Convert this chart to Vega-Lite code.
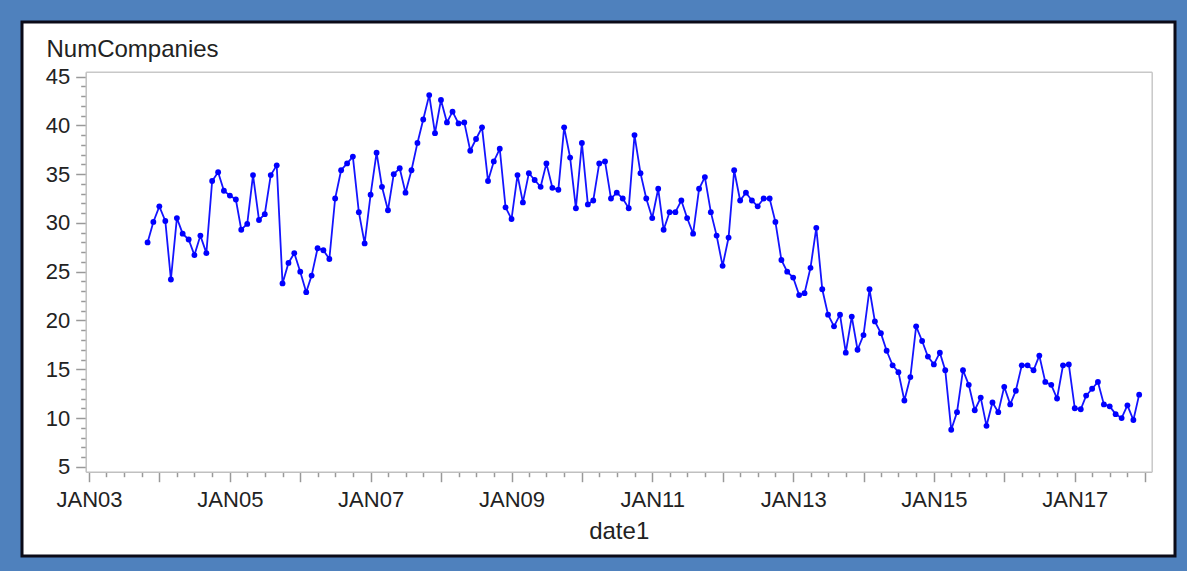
{
  "$schema": "https://vega.github.io/schema/vega-lite/v6.json",
  "width": 1153,
  "height": 534,
  "autosize": {"type": "none"},
  "padding": {"left": 22, "top": 22, "right": 12, "bottom": 15},
  "background": "#4F81BD",
  "config": {
    "view": {"fill": "white", "stroke": "#0b0b18", "strokeWidth": 3},
    "font": "Liberation Sans"
  },
  "data": {"values": [
    {"date1": "2003/11/01", "NumCompanies": 28.0},
    {"date1": "2003/12/01", "NumCompanies": 30.1},
    {"date1": "2004/01/01", "NumCompanies": 31.7},
    {"date1": "2004/02/01", "NumCompanies": 30.2},
    {"date1": "2004/03/01", "NumCompanies": 24.2},
    {"date1": "2004/04/01", "NumCompanies": 30.5},
    {"date1": "2004/05/01", "NumCompanies": 28.9},
    {"date1": "2004/06/01", "NumCompanies": 28.3},
    {"date1": "2004/07/01", "NumCompanies": 26.7},
    {"date1": "2004/08/01", "NumCompanies": 28.7},
    {"date1": "2004/09/01", "NumCompanies": 26.9},
    {"date1": "2004/10/01", "NumCompanies": 34.3},
    {"date1": "2004/11/01", "NumCompanies": 35.2},
    {"date1": "2004/12/01", "NumCompanies": 33.3},
    {"date1": "2005/01/01", "NumCompanies": 32.8},
    {"date1": "2005/02/01", "NumCompanies": 32.4},
    {"date1": "2005/03/01", "NumCompanies": 29.3},
    {"date1": "2005/04/01", "NumCompanies": 29.9},
    {"date1": "2005/05/01", "NumCompanies": 34.9},
    {"date1": "2005/06/01", "NumCompanies": 30.3},
    {"date1": "2005/07/01", "NumCompanies": 30.9},
    {"date1": "2005/08/01", "NumCompanies": 34.9},
    {"date1": "2005/09/01", "NumCompanies": 35.9},
    {"date1": "2005/10/01", "NumCompanies": 23.8},
    {"date1": "2005/11/01", "NumCompanies": 25.9},
    {"date1": "2005/12/01", "NumCompanies": 26.9},
    {"date1": "2006/01/01", "NumCompanies": 25.0},
    {"date1": "2006/02/01", "NumCompanies": 22.9},
    {"date1": "2006/03/01", "NumCompanies": 24.6},
    {"date1": "2006/04/01", "NumCompanies": 27.4},
    {"date1": "2006/05/01", "NumCompanies": 27.2},
    {"date1": "2006/06/01", "NumCompanies": 26.3},
    {"date1": "2006/07/01", "NumCompanies": 32.5},
    {"date1": "2006/08/01", "NumCompanies": 35.4},
    {"date1": "2006/09/01", "NumCompanies": 36.1},
    {"date1": "2006/10/01", "NumCompanies": 36.8},
    {"date1": "2006/11/01", "NumCompanies": 31.1},
    {"date1": "2006/12/01", "NumCompanies": 27.9},
    {"date1": "2007/01/01", "NumCompanies": 32.9},
    {"date1": "2007/02/01", "NumCompanies": 37.2},
    {"date1": "2007/03/01", "NumCompanies": 33.7},
    {"date1": "2007/04/01", "NumCompanies": 31.3},
    {"date1": "2007/05/01", "NumCompanies": 35.0},
    {"date1": "2007/06/01", "NumCompanies": 35.6},
    {"date1": "2007/07/01", "NumCompanies": 33.1},
    {"date1": "2007/08/01", "NumCompanies": 35.4},
    {"date1": "2007/09/01", "NumCompanies": 38.2},
    {"date1": "2007/10/01", "NumCompanies": 40.6},
    {"date1": "2007/11/01", "NumCompanies": 43.1},
    {"date1": "2007/12/01", "NumCompanies": 39.2},
    {"date1": "2008/01/01", "NumCompanies": 42.6},
    {"date1": "2008/02/01", "NumCompanies": 40.3},
    {"date1": "2008/03/01", "NumCompanies": 41.4},
    {"date1": "2008/04/01", "NumCompanies": 40.2},
    {"date1": "2008/05/01", "NumCompanies": 40.3},
    {"date1": "2008/06/01", "NumCompanies": 37.4},
    {"date1": "2008/07/01", "NumCompanies": 38.6},
    {"date1": "2008/08/01", "NumCompanies": 39.8},
    {"date1": "2008/09/01", "NumCompanies": 34.3},
    {"date1": "2008/10/01", "NumCompanies": 36.3},
    {"date1": "2008/11/01", "NumCompanies": 37.6},
    {"date1": "2008/12/01", "NumCompanies": 31.6},
    {"date1": "2009/01/01", "NumCompanies": 30.4},
    {"date1": "2009/02/01", "NumCompanies": 34.9},
    {"date1": "2009/03/01", "NumCompanies": 32.1},
    {"date1": "2009/04/01", "NumCompanies": 35.1},
    {"date1": "2009/05/01", "NumCompanies": 34.4},
    {"date1": "2009/06/01", "NumCompanies": 33.7},
    {"date1": "2009/07/01", "NumCompanies": 36.1},
    {"date1": "2009/08/01", "NumCompanies": 33.6},
    {"date1": "2009/09/01", "NumCompanies": 33.4},
    {"date1": "2009/10/01", "NumCompanies": 39.8},
    {"date1": "2009/11/01", "NumCompanies": 36.7},
    {"date1": "2009/12/01", "NumCompanies": 31.5},
    {"date1": "2010/01/01", "NumCompanies": 38.2},
    {"date1": "2010/02/01", "NumCompanies": 31.9},
    {"date1": "2010/03/01", "NumCompanies": 32.3},
    {"date1": "2010/04/01", "NumCompanies": 36.1},
    {"date1": "2010/05/01", "NumCompanies": 36.3},
    {"date1": "2010/06/01", "NumCompanies": 32.5},
    {"date1": "2010/07/01", "NumCompanies": 33.1},
    {"date1": "2010/08/01", "NumCompanies": 32.5},
    {"date1": "2010/09/01", "NumCompanies": 31.5},
    {"date1": "2010/10/01", "NumCompanies": 39.0},
    {"date1": "2010/11/01", "NumCompanies": 35.1},
    {"date1": "2010/12/01", "NumCompanies": 32.5},
    {"date1": "2011/01/01", "NumCompanies": 30.5},
    {"date1": "2011/02/01", "NumCompanies": 33.5},
    {"date1": "2011/03/01", "NumCompanies": 29.3},
    {"date1": "2011/04/01", "NumCompanies": 31.1},
    {"date1": "2011/05/01", "NumCompanies": 31.1},
    {"date1": "2011/06/01", "NumCompanies": 32.3},
    {"date1": "2011/07/01", "NumCompanies": 30.5},
    {"date1": "2011/08/01", "NumCompanies": 28.9},
    {"date1": "2011/09/01", "NumCompanies": 33.5},
    {"date1": "2011/10/01", "NumCompanies": 34.7},
    {"date1": "2011/11/01", "NumCompanies": 31.1},
    {"date1": "2011/12/01", "NumCompanies": 28.7},
    {"date1": "2012/01/01", "NumCompanies": 25.6},
    {"date1": "2012/02/01", "NumCompanies": 28.5},
    {"date1": "2012/03/01", "NumCompanies": 35.4},
    {"date1": "2012/04/01", "NumCompanies": 32.3},
    {"date1": "2012/05/01", "NumCompanies": 33.1},
    {"date1": "2012/06/01", "NumCompanies": 32.3},
    {"date1": "2012/07/01", "NumCompanies": 31.7},
    {"date1": "2012/08/01", "NumCompanies": 32.5},
    {"date1": "2012/09/01", "NumCompanies": 32.5},
    {"date1": "2012/10/01", "NumCompanies": 30.1},
    {"date1": "2012/11/01", "NumCompanies": 26.2},
    {"date1": "2012/12/01", "NumCompanies": 25.0},
    {"date1": "2013/01/01", "NumCompanies": 24.4},
    {"date1": "2013/02/01", "NumCompanies": 22.6},
    {"date1": "2013/03/01", "NumCompanies": 22.8},
    {"date1": "2013/04/01", "NumCompanies": 25.4},
    {"date1": "2013/05/01", "NumCompanies": 29.5},
    {"date1": "2013/06/01", "NumCompanies": 23.2},
    {"date1": "2013/07/01", "NumCompanies": 20.6},
    {"date1": "2013/08/01", "NumCompanies": 19.4},
    {"date1": "2013/09/01", "NumCompanies": 20.6},
    {"date1": "2013/10/01", "NumCompanies": 16.7},
    {"date1": "2013/11/01", "NumCompanies": 20.4},
    {"date1": "2013/12/01", "NumCompanies": 17.0},
    {"date1": "2014/01/01", "NumCompanies": 18.5},
    {"date1": "2014/02/01", "NumCompanies": 23.2},
    {"date1": "2014/03/01", "NumCompanies": 19.9},
    {"date1": "2014/04/01", "NumCompanies": 18.7},
    {"date1": "2014/05/01", "NumCompanies": 16.9},
    {"date1": "2014/06/01", "NumCompanies": 15.4},
    {"date1": "2014/07/01", "NumCompanies": 14.7},
    {"date1": "2014/08/01", "NumCompanies": 11.8},
    {"date1": "2014/09/01", "NumCompanies": 14.2},
    {"date1": "2014/10/01", "NumCompanies": 19.4},
    {"date1": "2014/11/01", "NumCompanies": 17.9},
    {"date1": "2014/12/01", "NumCompanies": 16.3},
    {"date1": "2015/01/01", "NumCompanies": 15.5},
    {"date1": "2015/02/01", "NumCompanies": 16.7},
    {"date1": "2015/03/01", "NumCompanies": 14.9},
    {"date1": "2015/04/01", "NumCompanies": 8.8},
    {"date1": "2015/05/01", "NumCompanies": 10.6},
    {"date1": "2015/06/01", "NumCompanies": 14.9},
    {"date1": "2015/07/01", "NumCompanies": 13.4},
    {"date1": "2015/08/01", "NumCompanies": 10.8},
    {"date1": "2015/09/01", "NumCompanies": 12.1},
    {"date1": "2015/10/01", "NumCompanies": 9.2},
    {"date1": "2015/11/01", "NumCompanies": 11.6},
    {"date1": "2015/12/01", "NumCompanies": 10.6},
    {"date1": "2016/01/01", "NumCompanies": 13.2},
    {"date1": "2016/02/01", "NumCompanies": 11.4},
    {"date1": "2016/03/01", "NumCompanies": 12.8},
    {"date1": "2016/04/01", "NumCompanies": 15.4},
    {"date1": "2016/05/01", "NumCompanies": 15.4},
    {"date1": "2016/06/01", "NumCompanies": 14.9},
    {"date1": "2016/07/01", "NumCompanies": 16.4},
    {"date1": "2016/08/01", "NumCompanies": 13.7},
    {"date1": "2016/09/01", "NumCompanies": 13.4},
    {"date1": "2016/10/01", "NumCompanies": 12.0},
    {"date1": "2016/11/01", "NumCompanies": 15.4},
    {"date1": "2016/12/01", "NumCompanies": 15.5},
    {"date1": "2017/01/01", "NumCompanies": 11.0},
    {"date1": "2017/02/01", "NumCompanies": 10.9},
    {"date1": "2017/03/01", "NumCompanies": 12.3},
    {"date1": "2017/04/01", "NumCompanies": 13.0},
    {"date1": "2017/05/01", "NumCompanies": 13.7},
    {"date1": "2017/06/01", "NumCompanies": 11.4},
    {"date1": "2017/07/01", "NumCompanies": 11.2},
    {"date1": "2017/08/01", "NumCompanies": 10.4},
    {"date1": "2017/09/01", "NumCompanies": 10.0},
    {"date1": "2017/10/01", "NumCompanies": 11.3},
    {"date1": "2017/11/01", "NumCompanies": 9.8},
    {"date1": "2017/12/01", "NumCompanies": 12.4}
  ]},
  "layer": [
    {
      "mark": {"type": "line", "color": "#1414FF", "strokeWidth": 1.8},
      "encoding": {
        "x": {
          "field": "date1", "type": "temporal",
          "scale": {"domain": [{"year": 2002, "month": 12, "date": 15}, {"year": 2018, "month": 2, "date": 4}], "range": [63.7, 1129.7], "nice": false},
          "axis": {
            "orient": "bottom", "offset": -84.3, "grid": false,
            "tickCount": {"interval": "month", "step": 3},
            "labelExpr": "month(datum.value) == 0 && year(datum.value) % 2 == 1 ? upper(timeFormat(datum.value, '%b%y')) : ''",
            "labelOverlap": false, "labelFlush": false,
            "labelFontSize": 22, "labelColor": "#222222", "labelPadding": 8,
            "tickSize": {"condition": {"test": "month(datum.value) == 0", "value": 10}, "value": 5},
            "tickColor": "#999999", "tickWidth": 1.5,
            "domainColor": "#c0c0c0", "domainWidth": 1.5,
            "title": "date1", "titleFontSize": 24, "titleFontWeight": "normal", "titleColor": "#222222",
            "titleY": 66.3, "titleBaseline": "alphabetic"
          }
        },
        "y": {
          "field": "NumCompanies", "type": "quantitative",
          "scale": {"domain": [4.5, 45.5], "range": [449.7, 49.7], "nice": false, "zero": false},
          "axis": {
            "orient": "left", "offset": -63.7, "grid": false,
            "values": [5,6,7,8,9,10,11,12,13,14,15,16,17,18,19,20,21,22,23,24,25,26,27,28,29,30,31,32,33,34,35,36,37,38,39,40,41,42,43,44,45],
            "labelExpr": "datum.value % 5 == 0 ? datum.label : ''",
            "labelOverlap": false,
            "labelFontSize": 22, "labelColor": "#222222", "labelPadding": 6,
            "tickSize": {"condition": {"test": "datum.value % 5 == 0", "value": 10}, "value": 5},
            "tickColor": "#999999", "tickWidth": 1.5,
            "domainColor": "#c0c0c0", "domainWidth": 1.5,
            "title": "NumCompanies", "titleFontSize": 24, "titleFontWeight": "normal", "titleColor": "#222222",
            "titleAngle": 0, "titleAlign": "left", "titleBaseline": "alphabetic",
            "titleX": -39.7, "titleY": 34.7
          }
        }
      }
    },
    {
      "mark": {"type": "point", "filled": true, "color": "#0000FF", "size": 34, "opacity": 1},
      "encoding": {
        "x": {
          "field": "date1", "type": "temporal",
          "axis": {"orient": "top", "offset": -49.7, "ticks": false, "labels": false, "title": null, "grid": false, "domainColor": "#c8c8c8", "domainWidth": 1.5}
        },
        "y": {
          "field": "NumCompanies", "type": "quantitative",
          "axis": {"orient": "right", "offset": -23.3, "ticks": false, "labels": false, "title": null, "grid": false, "domainColor": "#c8c8c8", "domainWidth": 1.5}
        }
      }
    }
  ],
  "resolve": {"axis": {"x": "independent", "y": "independent"}}
}
